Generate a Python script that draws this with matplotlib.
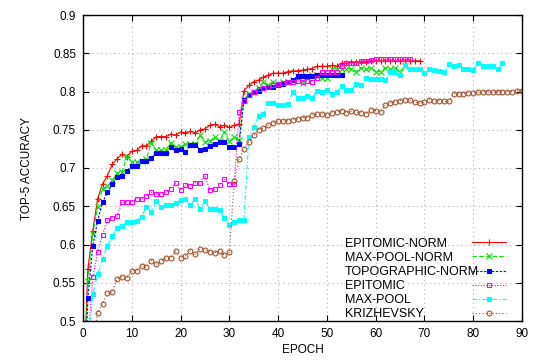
import numpy as np
import matplotlib.pyplot as plt

plt.rcParams['font.family'] = ['Liberation Sans', 'DejaVu Sans']

# accuracy per epoch
epitomic_norm = [0.40, 0.568, 0.618, 0.66, 0.679, 0.69, 0.705, 0.712, 0.718, 0.715,
                 0.722, 0.723, 0.729, 0.729, 0.735, 0.741, 0.741, 0.741, 0.744, 0.743,
                 0.747, 0.746, 0.748, 0.746, 0.75, 0.751, 0.756, 0.757, 0.754, 0.756,
                 0.753, 0.756, 0.757, 0.801, 0.808, 0.813, 0.815, 0.819, 0.821, 0.824,
                 0.824, 0.824, 0.826, 0.827, 0.827, 0.828, 0.829, 0.830, 0.833, 0.833,
                 0.833, 0.834, 0.833, 0.837, 0.837, 0.838, 0.838, 0.839, 0.839, 0.84,
                 0.84, 0.84, 0.84, 0.84, 0.84, 0.84, 0.84, 0.84, 0.84, 0.84]
maxpool_norm = [0.38, 0.552, 0.614, 0.649, 0.673, 0.676, 0.684, 0.693, 0.695, 0.714,
                0.708, 0.708, 0.709, 0.712, 0.733, 0.723, 0.723, 0.724, 0.733, 0.727,
                0.728, 0.731, 0.731, 0.731, 0.743, 0.734, 0.735, 0.74, 0.735, 0.747,
                0.735, 0.74, 0.737, 0.789, 0.797, 0.80, 0.805, 0.813, 0.808, 0.813,
                0.81, 0.812, 0.813, 0.815, 0.82, 0.811, 0.82, 0.822, 0.822, 0.818,
                0.818, 0.829, 0.83, 0.829, 0.83, 0.829, 0.826, 0.831, 0.829, 0.831,
                0.826, 0.826, 0.831, 0.829, 0.831, 0.826, 0.833]
topographic_norm = [0.36, 0.53, 0.598, 0.631, 0.655, 0.668, 0.679, 0.688, 0.69, 0.696,
                    0.703, 0.702, 0.709, 0.709, 0.713, 0.719, 0.719, 0.719, 0.727, 0.723,
                    0.725, 0.721, 0.73, 0.73, 0.724, 0.725, 0.729, 0.731, 0.734, 0.734,
                    0.728, 0.727, 0.731, 0.789, 0.795, 0.799, 0.801, 0.804, 0.806, 0.806,
                    0.808, 0.81, 0.813, 0.815, 0.82, 0.82, 0.82, 0.82, 0.822, 0.822,
                    0.822, 0.822, 0.822, 0.822]
epitomic = [0.47, 0.557, 0.59, 0.613, 0.632, 0.635, 0.637, 0.655, 0.656,
            0.656, 0.66, 0.659, 0.663, 0.668, 0.666, 0.666, 0.668, 0.673, 0.68,
            0.671, 0.678, 0.676, 0.681, 0.681, 0.69, 0.671, 0.672, 0.678, 0.685,
            0.679, 0.679, 0.773, 0.787, 0.795, 0.80, 0.803, 0.805, 0.806, 0.808,
            0.81, 0.811, 0.812, 0.812, 0.814, 0.813, 0.814, 0.813, 0.818, 0.826,
            0.826, 0.826, 0.826, 0.833, 0.837, 0.837, 0.837, 0.84, 0.84, 0.841,
            0.842, 0.842, 0.842, 0.842, 0.842, 0.842, 0.842, 0.842]
maxpool = [0.46, 0.535, 0.561, 0.581, 0.598, 0.611, 0.622, 0.624, 0.63,
           0.63, 0.631, 0.636, 0.649, 0.643, 0.657, 0.649, 0.651, 0.652, 0.654,
           0.658, 0.659, 0.652, 0.66, 0.646, 0.657, 0.646, 0.647, 0.645, 0.634,
           0.626, 0.63, 0.632, 0.632, 0.74, 0.754, 0.768, 0.771, 0.785, 0.785,
           0.783, 0.782, 0.784, 0.80, 0.792, 0.792, 0.794, 0.792, 0.801, 0.799,
           0.802, 0.797, 0.799, 0.807, 0.802, 0.802, 0.81, 0.808, 0.818, 0.816,
           0.816, 0.816, 0.815, 0.826, 0.826, 0.822, 0.834, 0.83, 0.829, 0.829,
           0.824, 0.829, 0.828, 0.827, 0.826, 0.836, 0.833, 0.834, 0.83, 0.829,
           0.828, 0.837, 0.833, 0.833, 0.833, 0.829, 0.837]
krizhevsky = [0.47, 0.511, 0.522, 0.536, 0.538, 0.555, 0.558, 0.556,
              0.566, 0.566, 0.572, 0.57, 0.579, 0.574, 0.578, 0.582, 0.583, 0.591,
              0.583, 0.585, 0.592, 0.587, 0.594, 0.593, 0.59, 0.589, 0.592, 0.586,
              0.59, 0.683, 0.712, 0.725, 0.734, 0.743, 0.75, 0.752, 0.756, 0.759,
              0.761, 0.761, 0.762, 0.763, 0.764, 0.766, 0.766, 0.769, 0.77, 0.771,
              0.769, 0.772, 0.773, 0.775, 0.772, 0.774, 0.773, 0.772, 0.77, 0.776,
              0.775, 0.773, 0.783, 0.785, 0.786, 0.788, 0.789, 0.789, 0.786, 0.785,
              0.786, 0.789, 0.787, 0.788, 0.787, 0.787, 0.797, 0.797, 0.797, 0.798,
              0.798, 0.799, 0.80, 0.80, 0.799, 0.80, 0.80, 0.80, 0.80, 0.801, 0.801]

# (label, values, first epoch, colour, linestyle, marker, filled)
series = [
    ("EPITOMIC-NORM", epitomic_norm, 0, "#ff0000", "-", "+", True),
    ("MAX-POOL-NORM", maxpool_norm, 0, "#00e000", (0, (4, 2)), "x", True),
    ("TOPOGRAPHIC-NORM", topographic_norm, 0, "#0000ff", (0, (2, 1.5)), "s", True),
    ("EPITOMIC", epitomic, 1, "#ff00ff", (0, (1, 1.5)), "s", False),
    ("MAX-POOL", maxpool, 1, "#00ffff", (0, (4, 2, 1, 2)), "s", True),
    ("KRIZHEVSKY", krizhevsky, 2, "#a0522d", (0, (1, 2)), "o", False),
]

fig = plt.figure(figsize=(5.4, 3.6), dpi=100)
ax = fig.add_axes([83 / 540, 1 - 321 / 360, (522 - 83) / 540, (321 - 15) / 360])

for label, vals, start, col, ls, mk, filled in series:
    ep = np.arange(len(vals)) + start
    ms = 3.5 if mk in "so" else 5
    ax.plot(ep, vals, color=col, linestyle=ls, linewidth=0.8, marker=mk,
            markersize=ms, markeredgewidth=0.8,
            markerfacecolor=col if filled else "none", markeredgecolor=col,
            label=label)

ax.set_xlim(0, 90)
ax.set_ylim(0.5, 0.9)
ax.set_xticks(np.arange(0, 91, 10))
ax.set_yticks(np.arange(0.5, 0.901, 0.05))
ax.set_yticklabels(["%g" % round(v, 2) for v in np.arange(0.5, 0.901, 0.05)])
ax.tick_params(direction="in", top=True, right=True, length=4, labelsize=8.5,
               width=0.8, pad=5)
ax.grid(True, color="#b0b0b0", linestyle=(0, (1, 3)), linewidth=0.8)
for s in ax.spines.values():
    s.set_linewidth(1.0)

ax.set_xlabel("EPOCH", fontsize=8.5, labelpad=3)
ax.set_ylabel("TOP-5 ACCURACY", fontsize=8.5, labelpad=14)

leg = ax.legend(loc="lower right", frameon=False, markerfirst=False, fontsize=9,
                handlelength=2.7, labelspacing=0.17, handletextpad=0.0,
                borderaxespad=0.0, bbox_to_anchor=(0.975, -0.014))

# gnuplot-style key: left-aligned labels, samples in a column on the right
fig.canvas.draw()
r = fig.canvas.get_renderer()
col_box = leg._legend_handle_box.get_children()[0]
widths = [t.get_window_extent(r).width for t in leg.get_texts()]
mw = max(widths) - 7
for hp, w in zip(col_box.get_children(), widths):
    hp.sep = (mw - w) * 72 / fig.dpi

fig.savefig("out.png", dpi=100)
